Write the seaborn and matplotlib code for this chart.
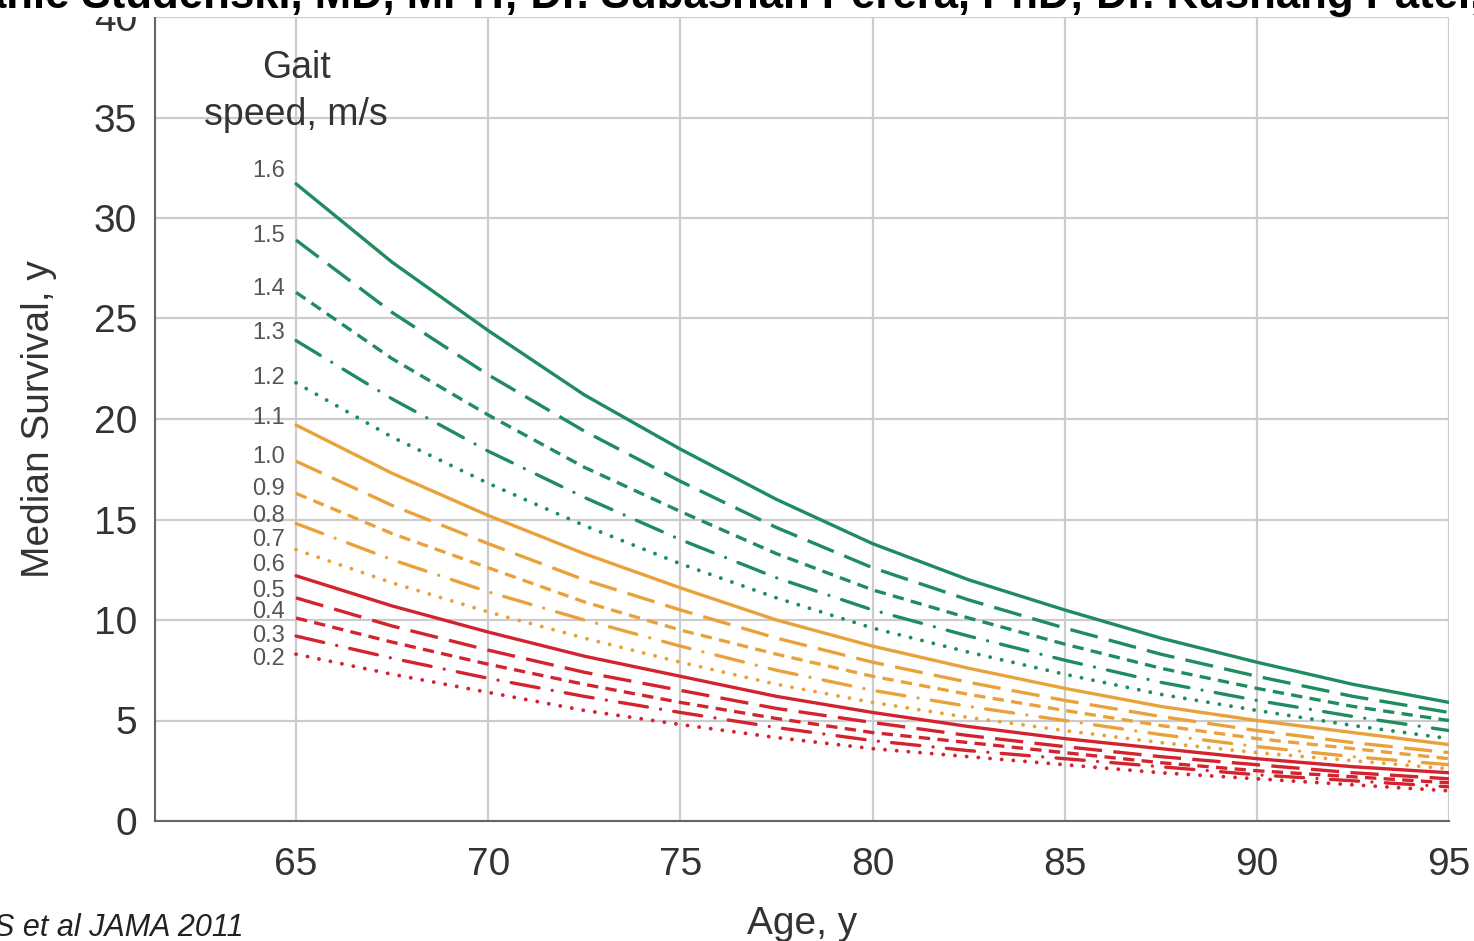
import pandas as pd
import seaborn as sns
import matplotlib.pyplot as plt

# Median survival (years) by age, one list per gait speed (m/s)
ages = [65, 67.5, 70, 72.5, 75, 77.5, 80, 82.5, 85, 87.5, 90, 92.5, 95]
speeds = ['1.6', '1.5', '1.4', '1.3', '1.2', '1.1', '1.0', '0.9',
          '0.8', '0.7', '0.6', '0.5', '0.4', '0.3', '0.2']

surv_16 = [31.7, 27.8, 24.4, 21.2, 18.5, 16.0, 13.8, 12.0, 10.5, 9.1, 7.9, 6.8, 5.9]
surv_15 = [28.9, 25.3, 22.2, 19.4, 16.9, 14.6, 12.6, 11.0, 9.6, 8.3, 7.2, 6.2, 5.4]
surv_14 = [26.3, 23.0, 20.2, 17.6, 15.4, 13.3, 11.5, 10.1, 8.8, 7.6, 6.6, 5.7, 5.0]
surv_13 = [23.9, 21.0, 18.4, 16.1, 14.0, 12.1, 10.5, 9.2, 8.0, 6.9, 6.0, 5.2, 4.5]
surv_12 = [21.8, 19.1, 16.8, 14.7, 12.8, 11.1, 9.6, 8.4, 7.3, 6.3, 5.5, 4.75, 4.1]
surv_11 = [19.7, 17.3, 15.2, 13.3, 11.6, 10.0, 8.7, 7.6, 6.6, 5.7, 5.0, 4.4, 3.8]
surv_10 = [17.9, 15.7, 13.8, 12.0, 10.5, 9.1, 7.9, 6.9, 6.0, 5.2, 4.5, 3.9, 3.4]
surv_09 = [16.3, 14.3, 12.6, 10.9, 9.5, 8.3, 7.2, 6.3, 5.5, 4.75, 4.1, 3.6, 3.1]
surv_08 = [14.8, 13.0, 11.4, 10.0, 8.7, 7.5, 6.5, 5.7, 5.0, 4.3, 3.7, 3.2, 2.8]
surv_07 = [13.5, 11.85, 10.4, 9.1, 7.9, 6.8, 5.9, 5.15, 4.5, 3.9, 3.4, 3.0, 2.6]
surv_06 = [12.2, 10.7, 9.4, 8.2, 7.2, 6.2, 5.4, 4.7, 4.1, 3.6, 3.1, 2.7, 2.4]
surv_05 = [11.1, 9.7, 8.5, 7.4, 6.5, 5.6, 4.9, 4.25, 3.7, 3.2, 2.8, 2.4, 2.1]
surv_04 = [10.1, 8.9, 7.8, 6.8, 5.9, 5.1, 4.4, 3.9, 3.4, 2.9, 2.5, 2.2, 1.9]
surv_03 = [9.2, 8.1, 7.1, 6.2, 5.4, 4.65, 4.0, 3.5, 3.1, 2.7, 2.3, 2.0, 1.7]
surv_02 = [8.3, 7.3, 6.4, 5.5, 4.8, 4.15, 3.6, 3.2, 2.8, 2.4, 2.1, 1.8, 1.5]

series = [surv_16, surv_15, surv_14, surv_13, surv_12, surv_11, surv_10, surv_09,
          surv_08, surv_07, surv_06, surv_05, surv_04, surv_03, surv_02]

# Styling: three colour groups, five line styles repeated in each
green, orange, red = '#1e8c5e', '#e9a23b', '#d3232f'
group_colors = [green] * 5 + [orange] * 5 + [red] * 5
style_cycle = [None, (8.5, 3.4), (3.4, 2.2), (8.5, 4.0, 0.01, 4.0), (0.01, 3.0)]

# where the little speed labels sit (spread out so they don't collide)
label_y = [32.44, 29.25, 26.57, 24.38, 22.14, 20.15, 18.21, 16.62,
           15.32, 14.08, 12.84, 11.59, 10.5, 9.35, 8.16]


def main():
    sns.set_theme(style="whitegrid")
    plt.rcParams['font.family'] = ['Liberation Sans', 'DejaVu Sans']

    fig = plt.figure(figsize=(14.74, 9.41), dpi=100)
    ax = fig.add_axes([155 / 1474, 1 - 821 / 941, (1449 - 155) / 1474, (821 - 17) / 941])

    for i, (spd, vals) in enumerate(zip(speeds, series)):
        df = pd.DataFrame({'Age': ages, 'Survival': vals})
        sns.lineplot(data=df, x='Age', y='Survival', color=group_colors[i],
                     linewidth=2.4, ax=ax)
        line = ax.lines[-1]
        dash = style_cycle[i % 5]
        if dash is not None:
            line.set_dashes(dash)
            if i % 5 >= 3:
                line.set_dash_capstyle('round')
            if i % 5 == 4:
                line.set_linewidth(2.8)
        ax.text(64.72, label_y[i], spd, ha='right', va='center_baseline',
                fontsize=17, color='#555555')

    ax.text(65, 36.3, 'Gait\nspeed, m/s', ha='center', va='center',
            fontsize=27, color='#333333', linespacing=1.38)

    ax.set_xlim(61.33, 95)
    ax.set_ylim(0, 40)
    ax.set_xticks([65, 70, 75, 80, 85, 90, 95])
    ax.set_yticks([0, 5, 10, 15, 20, 25, 30, 35, 40])

    ax.grid(True, color='#cccccc', linewidth=1.6)
    ax.set_facecolor('white')
    for side in ['top', 'right']:
        ax.spines[side].set_visible(False)
    for side in ['left', 'bottom']:
        ax.spines[side].set_visible(True)
        ax.spines[side].set_color('#666666')
        ax.spines[side].set_linewidth(1.5)

    ax.tick_params(axis='both', length=9, width=1.5, color='#666666',
                   labelcolor='#333333', labelsize=28)
    ax.tick_params(axis='x', pad=10)
    ax.tick_params(axis='y', pad=4)

    ax.set_xlabel('Age, y', fontsize=28, color='#333333', labelpad=16)
    ax.set_ylabel('Median Survival, y', fontsize=28, color='#333333', labelpad=26)

    # cut-off author line at the top and citation at the bottom left
    fig.text(-0.012, 1 - 8 / 941, 'anie Studenski, MD, MPH; Dr. Subashan Perera, PhD; Dr. Kushang Patel,',
             ha='left', va='baseline', fontsize=31.5, fontweight='bold', color='black',
             bbox=dict(facecolor='white', edgecolor='none', pad=0.3))
    fig.text(-0.004, 1 - 928 / 941, 'S et al JAMA 2011', ha='left', va='center',
             fontsize=22, style='italic', color='#222222')

    plt.savefig('out.png', dpi=100)


if __name__ == "__main__":
    main()
